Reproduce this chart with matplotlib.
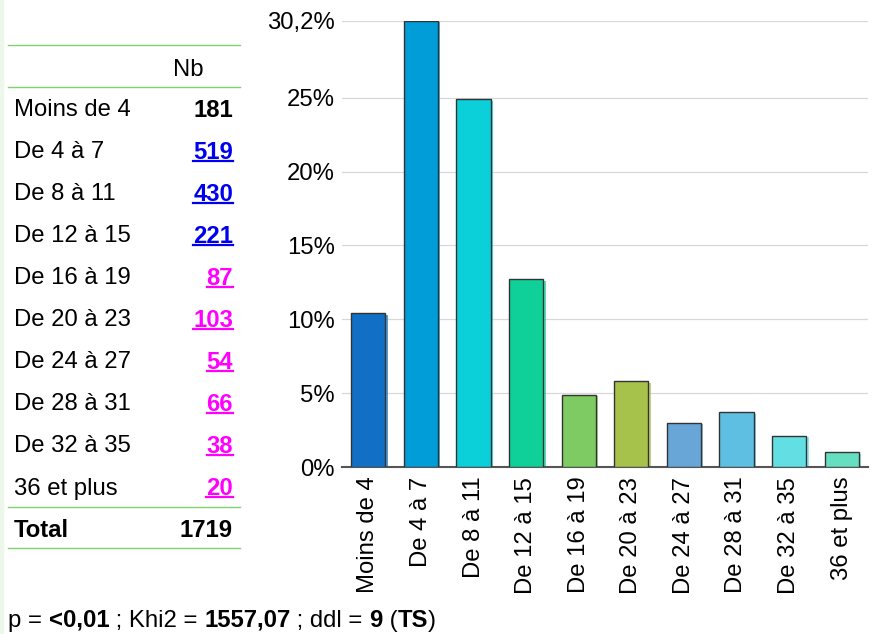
import matplotlib
matplotlib.use('Agg')
import matplotlib.pyplot as plt
from matplotlib.lines import Line2D
from matplotlib.patches import Rectangle

# data
categories = ['Moins de 4', 'De 4 à 7', 'De 8 à 11', 'De 12 à 15', 'De 16 à 19',
              'De 20 à 23', 'De 24 à 27', 'De 28 à 31', 'De 32 à 35', '36 et plus']
counts = [181, 519, 430, 221, 87, 103, 54, 66, 38, 20]
total = 1719
percents = [10.4, 30.2, 24.9, 12.7, 4.9, 5.8, 3.0, 3.7, 2.1, 1.0]
count_colors = ['#000000', '#0000EE', '#0000EE', '#0000EE', '#FF00FF',
                '#FF00FF', '#FF00FF', '#FF00FF', '#FF00FF', '#FF00FF']
underlined = [False] + [True] * 9
bar_colors = ['#1170C6', '#009DD8', '#0BD0D9', '#10D09A', '#7DCB62',
              '#A7C24A', '#69A6D8', '#5EBFE2', '#62DFE3', '#66DFC0']
yticks = [0, 5, 10, 15, 20, 25, 30.2]
ytick_labels = ['0%', '5%', '10%', '15%', '20%', '25%', '30,2%']

plt.rcParams['font.family'] = ['Liberation Sans', 'DejaVu Sans']
FS = 17.2
W, H = 873, 634

fig = plt.figure(figsize=(W / 100, H / 100), dpi=100)
fig.patches.append(Rectangle((0, 0), 3 / W, 1, transform=fig.transFigure,
                             color='#EEF8EA', zorder=0))

# bar chart
ax = fig.add_axes([342 / W, 1 - 467 / H, (868 - 342) / W, (467 - 21) / H])
x = list(range(len(categories)))
shadow = [p - 0.1 for p in percents]
ax.bar([i + 0.045 for i in x], shadow, width=0.65, color=bar_colors, alpha=0.7, zorder=2)
ax.bar(x, percents, width=0.65, color=bar_colors, edgecolor='#333333', linewidth=1, zorder=3)
ax.set_xlim(-0.5, 9.5)
ax.set_ylim(0, 30.2)
ax.set_yticks(yticks)
ax.set_yticklabels(ytick_labels, fontsize=FS)
ax.set_xticks(x)
ax.set_xticklabels(categories, rotation=90, fontsize=FS)
ax.tick_params(axis='y', length=0, pad=5)
ax.tick_params(axis='x', length=0, pad=7)
ax.yaxis.grid(True, color='#D8D8D8', linewidth=0.9, zorder=0)
ax.set_axisbelow(True)
for s in ['left', 'right', 'top']:
    ax.spines[s].set_visible(False)
ax.spines['bottom'].set_color('#555555')
ax.spines['bottom'].set_linewidth(1.5)

# table on the left
def fy(py):
    return 1 - py / H

line_color = '#7ED36B'
for py in [45, 87, 507, 548]:
    fig.add_artist(Line2D([8 / W, 240 / W], [fy(py), fy(py)], color=line_color, linewidth=1))

fig.text(188 / W, fy(67), 'Nb', ha='center', va='center_baseline', fontsize=FS)

num_texts = []
for k, (cat, n) in enumerate(zip(categories, counts)):
    py = 108 + 42 * k
    fig.text(14 / W, fy(py), cat, ha='left', va='center_baseline', fontsize=FS)
    t = fig.text(233 / W, fy(py), str(n), ha='right', va='center_baseline', fontsize=FS,
                 fontweight='bold', color=count_colors[k])
    num_texts.append(t)

fig.text(14 / W, fy(528), 'Total', ha='left', va='center_baseline', fontsize=FS, fontweight='bold')
fig.text(233 / W, fy(528), str(total), ha='right', va='center_baseline', fontsize=FS,
         fontweight='bold')

# bottom line with mixed weights
parts = [('p = ', 'normal'), ('<0,01', 'bold'), (' ; Khi2 = ', 'normal'), ('1557,07', 'bold'),
         (' ; ddl = ', 'normal'), ('9', 'bold'), (' (', 'normal'), ('TS', 'bold'), (')', 'normal')]

fig.canvas.draw()
renderer = fig.canvas.get_renderer()

# underline the linked counts
for t, u, c in zip(num_texts, underlined, count_colors):
    if not u:
        continue
    bb = t.get_window_extent(renderer)
    yline = bb.y0 + 3
    fig.add_artist(Line2D([bb.x0 / W, bb.x1 / W], [yline / H, yline / H], color=c, linewidth=1.6))

xpos = 8
for txt, wgt in parts:
    t = fig.text(xpos / W, fy(618), txt, ha='left', va='center_baseline', fontsize=FS,
                 fontweight=wgt)
    bb = t.get_window_extent(renderer)
    xpos += bb.width

fig.savefig('out.png', dpi=100)
